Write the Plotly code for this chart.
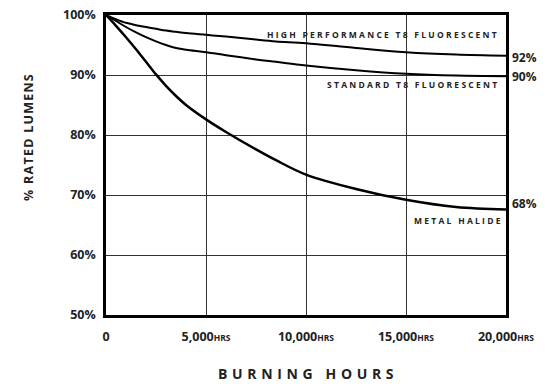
import plotly.graph_objects as go

hours = [0, 500, 1000, 1500, 2000, 2500, 3000, 3500, 4000, 5000, 6000, 7500, 8500, 10000, 12500, 15000, 17500, 20000]
high_perf = [100, 99.3, 98.7, 98.3, 98.0, 97.7, 97.4, 97.2, 97.0, 96.7, 96.4, 95.9, 95.6, 95.3, 94.5, 93.8, 93.4, 93.2]
standard = [100, 99.0, 98.0, 97.1, 96.3, 95.6, 95.0, 94.5, 94.2, 93.8, 93.3, 92.6, 92.2, 91.6, 90.8, 90.2, 89.9, 89.8]
metal_halide = [100, 98.2, 96.3, 94.3, 92.2, 90.1, 88.2, 86.5, 85.0, 82.6, 80.5, 77.6, 75.8, 73.4, 71.0, 69.2, 68.0, 67.6]

x_ticks = [0, 5000, 10000, 15000, 20000]
x_tick_text = ["0", "5,000", "10,000", "15,000", "20,000"]
y_ticks = [50, 60, 70, 80, 90, 100]
y_tick_text = ["50%", "60%", "70%", "80%", "90%", "100%"]

series_names = ["HIGH PERFORMANCE T8 FLUORESCENT", "STANDARD T8 FLUORESCENT", "METAL HALIDE"]
end_labels = ["92%", "90%", "68%"]

FONT = "Open Sans"


def spaced(s, sep="\u200a"):
    return sep.join(s)


fig = go.Figure()
for name, vals, w in zip(series_names, [high_perf, standard, metal_halide], [2, 2, 2.5]):
    fig.add_trace(go.Scatter(x=hours, y=vals, mode="lines", name=name,
                             line=dict(color="black", width=w, shape="spline", smoothing=1),
                             showlegend=False))

# series labels inside the plot
label_pos = [(19650, high_perf[-1] + 3.5), (19650, standard[-1] - 1.3), (19850, metal_halide[-1] - 1.8)]
for name, (xv, yv) in zip(series_names, label_pos):
    fig.add_annotation(x=xv, y=yv, text="<b>" + spaced(name, "\u2009\u200a") + "</b>",
                       showarrow=False, xanchor="right", yanchor="middle",
                       font=dict(family=FONT, size=8.5, color="#222"))

# end value labels
end_y = [high_perf[-1], standard[-1], metal_halide[-1]]
end_off = [-0.2, 0.0, 1.0]
for lab, yv, off in zip(end_labels, end_y, end_off):
    fig.add_annotation(x=20000, y=yv + off, text="<b>" + lab + "</b>", showarrow=False,
                       xanchor="left", yanchor="middle", xshift=4,
                       font=dict(family=FONT, size=12, color="#222"))

# axis titles
fig.add_annotation(xref="paper", yref="paper", x=0.5, y=0, yshift=-58,
                   text="<b>" + spaced("BURNING HOURS", "\u2009\u2009") + "</b>",
                   showarrow=False, xanchor="center", yanchor="middle",
                   font=dict(size=14, family=FONT, color="#222"))
fig.add_annotation(xref="paper", yref="paper", x=0, xshift=-78, y=0.5, yshift=27,
                   text="<b>" + spaced("% RATED LUMENS", "\u200a") + "</b>", textangle=-90,
                   showarrow=False, xanchor="center", yanchor="middle",
                   font=dict(size=12.5, family=FONT, color="#222"))

x_text = ["<b>" + t + "</b><span style='font-size:8.5px'><b>HRS</b></span>" for t in x_tick_text]
x_text[0] = "<b>0</b>"

fig.update_layout(
    width=555, height=384,
    margin=dict(l=106, r=49, t=15, b=69, autoexpand=False),
    paper_bgcolor="white", plot_bgcolor="white",
    font=dict(family=FONT, color="#222"),
    xaxis=dict(range=[0, 20000], tickvals=x_ticks, ticktext=x_text, automargin=False,
               showgrid=True, gridcolor="#333", gridwidth=1.3, zeroline=False,
               showline=True, linecolor="black", linewidth=2.5, mirror=True,
               ticks="", ticklabelstandoff=8, tickfont=dict(size=12.5, family=FONT)),
    yaxis=dict(range=[50, 100], tickvals=y_ticks, ticktext=["<b>" + t + "</b>" for t in y_tick_text],
               automargin=False,
               showgrid=True, gridcolor="#333", gridwidth=1.3, zeroline=False,
               showline=True, linecolor="black", linewidth=2.5, mirror=True,
               ticks="", ticklabelstandoff=5, tickfont=dict(size=12.5, family=FONT)),
)

fig.write_html("out.html", config={"displayModeBar": False},
               post_script="document.body.style.margin='0';document.body.style.padding='0';")
